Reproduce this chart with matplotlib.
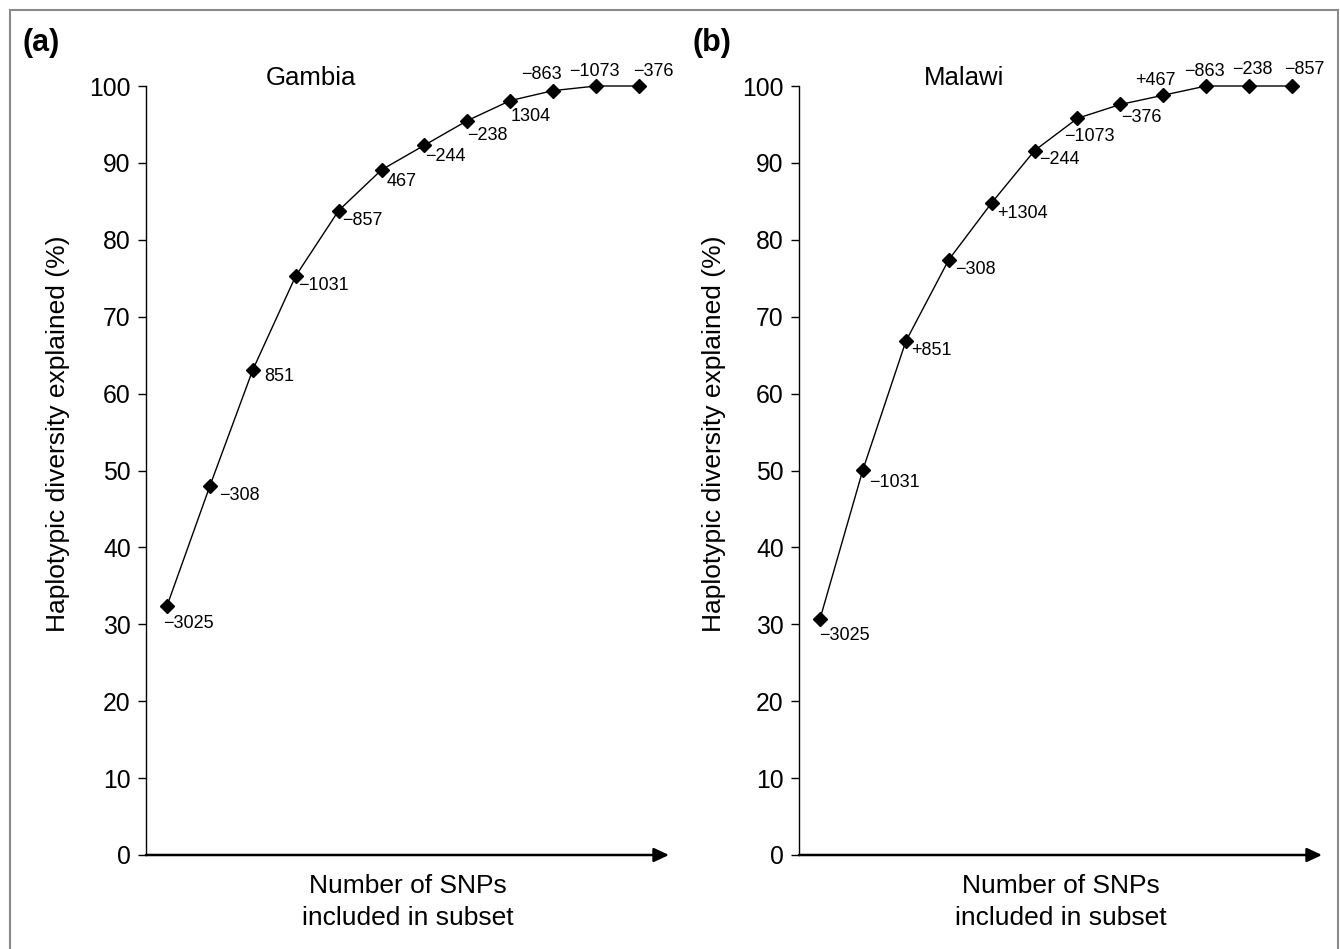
import matplotlib
matplotlib.use("Agg")
import matplotlib.pyplot as plt
from matplotlib.patches import Rectangle

plt.rcParams['font.family'] = ['Liberation Sans', 'DejaVu Sans']

# data
n_snps = list(range(1, 13))

gambia_vals = [32.4, 48.0, 63.1, 75.3, 83.8, 89.1, 92.3, 95.5, 98.1, 99.4, 100, 100]
gambia_snps = ['\u22123025', '\u2212308', '851', '\u22121031', '\u2212857', '467',
               '\u2212244', '\u2212238', '1304', '\u2212863', '\u22121073', '\u2212376']

malawi_vals = [30.7, 50.1, 66.8, 77.4, 84.8, 91.6, 95.8, 97.6, 98.8, 100, 100, 100]
malawi_snps = ['\u22123025', '\u22121031', '+851', '\u2212308', '+1304', '\u2212244',
               '\u22121073', '\u2212376', '+467', '\u2212863', '\u2212238', '\u2212857']

# label placement (pixels, dx right, dy down, measured to text centre)
gambia_offs = [(-3, 16), (10, 8), (12, 5), (3, 8), (4, 8), (6, 10), (2, 9), (1, 13),
               (1, 14), (-12, -18), (-2, -17), (14, -16)]
malawi_offs = [(0, 15), (7, 11), (6, 7), (7, 8), (6, 9), (6, 7), (-12, 16), (2, 11),
               (-8, -17), (-2, -17), (3, -19), (12, -19)]

W, H = 1340, 949
fig = plt.figure(figsize=(W / 100, H / 100), dpi=100)

# grey frame round the figure (no bottom edge visible)
fig.patches.append(Rectangle((10 / W, -0.05), 1328 / W, 1.05 - 9.5 / H,
                             transform=fig.transFigure, fill=False,
                             edgecolor='#8a8a8a', lw=1.5))


def panel(left, vals, snps, offs, title, tag, tag_x, ylab_x):
    ax = fig.add_axes([left / W, 1 - 855 / H, 523 / W, (855 - 86) / H])
    ax.plot(n_snps, vals, color='black', lw=1.0, marker='D', markersize=7,
            markerfacecolor='black', clip_on=False, zorder=3)
    for x, y, s, (dx, dy) in zip(n_snps, vals, snps, offs):
        ha = 'center' if dy < 0 else 'left'
        if ha == 'left':
            dx -= 1
        ax.annotate(s, (x, y), xytext=(dx, -(dy + 6.5)), textcoords='offset pixels',
                    ha=ha, va='baseline', fontsize=13)
    ax.set_xlim(0.51, 12.7)
    ax.set_ylim(0, 100)
    ax.set_yticks(range(0, 101, 10))
    ax.set_xticks([])
    ax.tick_params(axis='y', length=6, width=1.0, pad=5, labelsize=17.8)
    for side in ['top', 'right', 'bottom']:
        ax.spines[side].set_visible(False)
    ax.spines['left'].set_linewidth(1.0)
    ax.annotate('', xy=(1, 0), xytext=(0, 0), xycoords='axes fraction',
                arrowprops=dict(arrowstyle='-|>,head_length=0.9,head_width=0.42',
                                lw=1.8, color='black', shrinkA=0, shrinkB=0),
                annotation_clip=False)
    ax.set_xlabel('Number of SNPs\nincluded in subset', fontsize=19, labelpad=14,
                  linespacing=1.4)
    ax.set_ylabel('Haplotypic diversity explained (%)', fontsize=19)
    ax.yaxis.set_label_coords((ylab_x - left) / 523, (855 - 434) / (855 - 86))
    ax.text((title[1] - left) / 523, (855 - 85) / (855 - 86), title[0],
            transform=ax.transAxes, ha='center', va='baseline', fontsize=18.5)
    fig.text(tag_x / W, 1 - 43 / H, tag, fontsize=22, fontweight='bold',
             ha='left', va='center')
    return ax


panel(146, gambia_vals, gambia_snps, gambia_offs, ('Gambia', 311), '(a)', 22, 70)
panel(799, malawi_vals, malawi_snps, malawi_offs, ('Malawi', 964), '(b)', 693, 726)

fig.savefig('out.png', dpi=100)
